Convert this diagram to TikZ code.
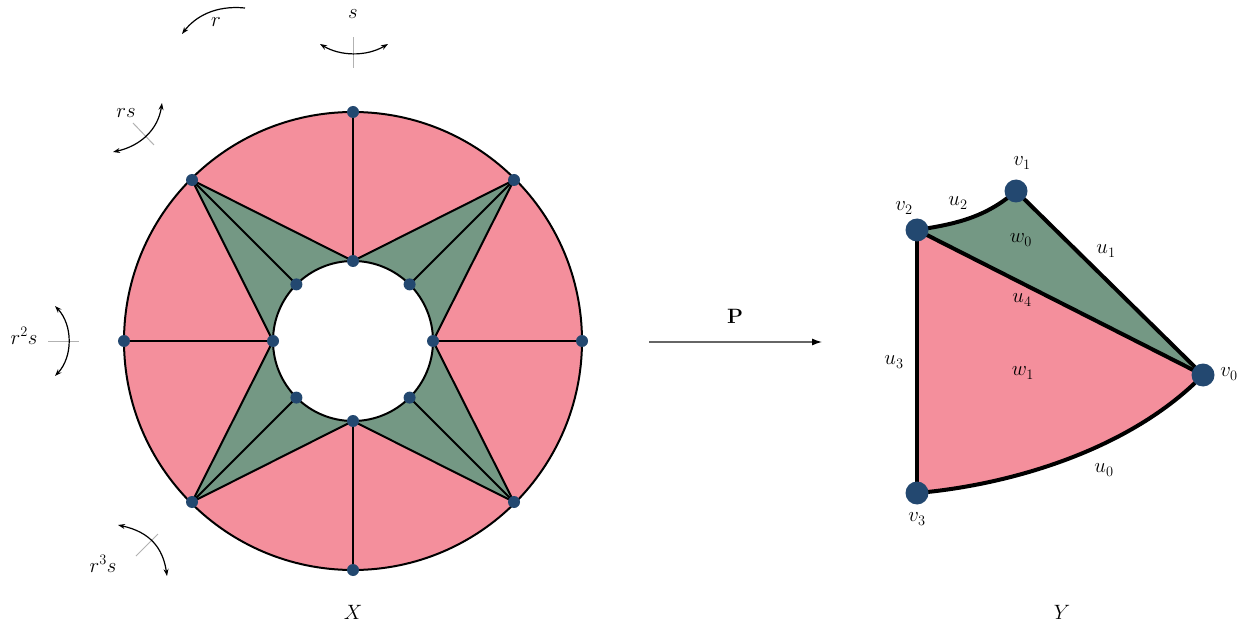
\documentclass[tikz,border=0pt]{standalone}
\usetikzlibrary{arrows.meta}
\definecolor{pinkc}{RGB}{244,143,156}
\definecolor{greenc}{RGB}{116,152,132}
\definecolor{dotc}{RGB}{35,72,112}
\begin{document}
\begin{tikzpicture}[x=1pt,y=-1pt,
  font=\fontsize{22}{26}\selectfont,
  sdot/.style={circle,fill=dotc,inner sep=0pt,minimum size=12pt},
  bdot/.style={circle,fill=dotc,inner sep=0pt,minimum size=23pt},
  edge/.style={line width=2pt,line join=round},
  thick edge/.style={line width=4pt,line join=round},
  symarc/.style={line width=1.2pt,{Stealth[length=7pt,width=5pt]}-{Stealth[length=7pt,width=5pt]}},
  axisln/.style={line width=1pt,gray!60},
  lbl/.style={inner sep=0pt}]
\useasboundingbox (0,0) rectangle (1253,628);
% ---- left figure X ----
\coordinate (cc) at (353,341);
\path (582,341) coordinate (O0) (514,180) coordinate (O45) (353,112) coordinate (O90)
  (192,180) coordinate (O135) (124,341) coordinate (O180) (192,502) coordinate (O225)
  (353,570) coordinate (O270) (514,502) coordinate (O315);
\path (433,341) coordinate (I0) (409.6,284.4) coordinate (I45) (353,261) coordinate (I90)
  (296.4,284.4) coordinate (I135) (273,341) coordinate (I180) (296.4,397.6) coordinate (I225)
  (353,421) coordinate (I270) (409.6,397.6) coordinate (I315);
\fill[pinkc] (cc) circle[radius=229];
\fill[greenc] (O45) -- (I90) -- (I0) -- cycle;
\fill[greenc] (O135) -- (I90) -- (I180) -- cycle;
\fill[greenc] (O225) -- (I180) -- (I270) -- cycle;
\fill[greenc] (O315) -- (I270) -- (I0) -- cycle;
\fill[white] (cc) circle[radius=80];
\draw[edge] (cc) circle[radius=229];
\draw[edge] (cc) circle[radius=80];
\foreach \o/\p/\q/\r in {O45/I90/I45/I0, O135/I90/I135/I180, O225/I180/I225/I270, O315/I270/I315/I0}{
  \draw[edge] (\p) -- (\o) -- (\r);
  \draw[edge] (\o) -- (\q);
}
\foreach \k in {0,90,180,270}{
  \draw[edge] (O\k) -- (I\k);
}
\foreach \k in {0,45,...,315}{
  \node[sdot] (no\k) at (O\k) {};
  \node[sdot] (ni\k) at (I\k) {};
}
% symmetry labels
\node[lbl] (lr) at (216,22) {$r$};
\draw[line width=1.2pt,-{Stealth[length=7pt,width=5pt]}] (245,8) .. controls (215,5) and (195,17) .. (182,34);
\node[lbl] (ls) at (353,14) {$s$};
\draw[axisln] (353,37) -- (353,68);
\draw[symarc] (320,44) .. controls (340,56) and (366,57) .. (388,44);
\node[lbl] (lrs) at (126,113) {$rs$};
\draw[axisln] (133,123) -- (154,145);
\draw[symarc] (162,103) .. controls (158,130) and (140,146) .. (113,152);
\node[lbl] (lr2s) at (24,336) {$r^2s$};
\draw[axisln] (48,341) -- (79,341);
\draw[symarc] (55,306) .. controls (73,325) and (73,357) .. (55,376);
\node[lbl] (lr3s) at (103,564) {$r^3s$};
\draw[axisln] (136,556) -- (158,534);
\draw[symarc] (118,525) .. controls (150,532) and (163,548) .. (167,576);
\node[lbl] (lX) at (353,612) {$X$};
% ---- map ----
\coordinate (pa) at (649,342);
\coordinate (pb) at (822,342);
\draw[line width=1.2pt,gray!80!black,-{Latex[length=10pt,width=7pt,black]}] (pa) -- (pb);
\node[lbl] (lP) at (735,316) {$\mathbf{P}$};
% ---- right figure Y ----
\coordinate (v1) at (1016,191);
\coordinate (v2) at (917,230);
\coordinate (v0) at (1203,375);
\coordinate (v3) at (917,493);
\fill[greenc] (v2) .. controls (955,224) and (985,218) .. (v1) -- (v0) -- cycle;
\fill[pinkc] (v2) -- (v0) .. controls (1130,450) and (1010,485) .. (v3) -- cycle;
\draw[thick edge] (v2) .. controls (955,224) and (985,218) .. (v1);
\draw[thick edge] (v1) -- (v0);
\draw[thick edge] (v2) -- (v0);
\draw[thick edge] (v2) -- (v3);
\draw[thick edge] (v3) .. controls (1010,485) and (1130,450) .. (v0);
\node[bdot] (n1) at (v1) {};
\node[bdot] (n2) at (v2) {};
\node[bdot] (n0) at (v0) {};
\node[bdot] (n3) at (v3) {};
\node[lbl] at (1022,163) {$v_1$};
\node[lbl] at (904,208) {$v_2$};
\node[lbl] at (1229,374) {$v_0$};
\node[lbl] at (917,519) {$v_3$};
\node[lbl] at (958,203) {$u_2$};
\node[lbl] at (1106,251) {$u_1$};
\node[lbl] at (1021,240) {$w_0$};
\node[lbl] at (1022,300) {$u_4$};
\node[lbl] at (1023,373) {$w_1$};
\node[lbl] at (894,362) {$u_3$};
\node[lbl] at (1104,470) {$u_0$};
\node[lbl] (lY) at (1062,612) {$Y$};
\end{tikzpicture}
\end{document}
